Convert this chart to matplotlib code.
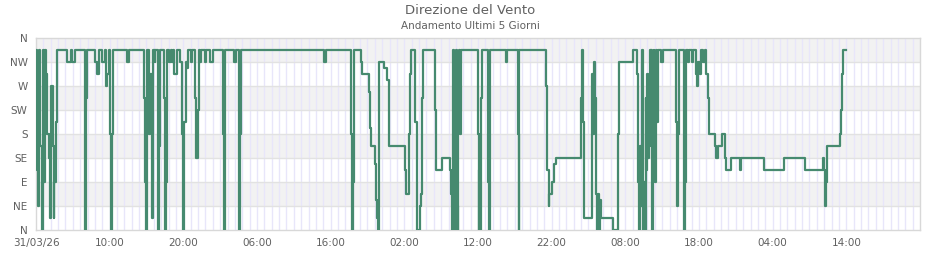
import matplotlib
matplotlib.use("Agg")
import matplotlib.pyplot as plt

# ---- data: hours since 31/03/26 00:00 where the direction changes, and the new direction (degrees)
change_hours = [
    0.0, 0.1, 0.2, 0.3, 0.45, 0.6, 0.8, 0.95, 1.1, 1.2, 1.4, 1.55, 1.7, 1.85, 1.95, 2.1, 2.25, 2.4, 2.5, 2.65, 2.8,
    4.2, 4.8, 4.95, 5.25,
    6.6, 6.7, 6.8, 6.9,
    8.0, 8.3, 8.5, 9.0, 9.3, 9.45, 9.6, 9.9,
    10.1, 10.2, 10.3, 10.4,
    12.4, 12.6,
    14.7, 14.85, 15.0, 15.1, 15.3, 15.5, 15.7, 15.85, 16.1, 16.2, 16.5, 16.6, 16.7, 16.8,
    17.4, 17.55, 17.65, 17.8,
    18.0, 18.3, 18.4, 18.6, 18.7, 19.1, 19.5, 19.8, 20.0, 20.15, 20.3, 20.5, 20.7, 21.0, 21.2,
    21.6, 21.75, 22.0, 22.1,
    22.3, 22.45, 22.9, 23.1, 23.6, 24.0,
    25.4, 25.5, 25.6, 25.7,
    26.9, 27.2,
    27.5, 27.6, 27.7, 27.8,
    39.1, 39.3,
    42.8, 42.95, 43.05, 43.15,
    44.1, 44.25, 45.2, 45.35, 45.5, 46.0, 46.2, 46.3, 46.45, 46.6,
    47.3, 47.6, 47.9, 50.1, 50.25, 50.6, 50.75, 50.85,
    51.45, 51.7, 52.1, 52.25, 52.35, 52.5,
    54.1, 54.25, 55.1, 56.2, 56.35, 56.45, 56.55, 56.65, 56.75, 56.85, 56.95, 57.05, 57.15, 57.25, 57.35, 57.45, 57.55, 57.65,
    60.0, 60.1, 60.2, 60.3, 60.4, 60.5,
    61.4, 61.5, 61.6,
    63.8, 64.0,
    65.4, 65.5, 65.6,
    69.2, 69.4, 69.6, 69.7, 70.0, 70.3, 70.6, 74.0, 74.1, 74.25, 74.4, 75.5, 75.6, 75.7, 75.9, 76.0, 76.1, 76.3, 76.4, 76.5, 76.7, 78.3, 79.0, 79.1,
    81.0, 81.1, 81.6, 81.7, 81.8, 81.9, 82.0, 82.1, 82.25, 82.35, 82.45, 82.55, 82.65, 82.75, 82.85, 82.95, 83.05, 83.15, 83.25, 83.35, 83.45, 83.55, 83.65, 83.75, 83.85, 83.95, 84.05, 84.15, 84.25, 84.4,
    84.9, 85.1,
    86.9, 87.05, 87.15, 87.3, 87.9, 88.0, 88.1, 88.2, 88.5, 88.7, 89.0, 89.2, 89.6, 89.75, 89.9, 90.1, 90.3, 90.6, 90.8, 91.0, 91.2, 91.3,
    91.4, 92.2, 92.35, 92.6, 93.1, 93.5, 93.65, 94.4,
    95.6, 95.75, 98.8, 101.5, 104.4, 106.8, 107.0, 107.15, 107.25, 107.4, 109.1, 109.25, 109.35, 109.5, 110.0,
]
directions = [
    337.5, 247.5, 112.5, 45, 337.5, 157.5, 0, 337.5, 90, 337.5, 292.5, 180, 135, 67.5, 22.5, 270, 157.5, 22.5, 90, 202.5, 337.5,
    315, 337.5, 315, 337.5,
    180, 0, 247.5, 337.5,
    315, 292.5, 337.5, 315, 337.5, 270, 292.5, 337.5,
    180, 0, 180, 337.5,
    315, 337.5,
    247.5, 90, 0, 337.5, 180, 292.5, 22.5, 337.5, 315, 337.5, 180, 0, 157.5, 337.5,
    247.5, 0, 90, 337.5,
    315, 337.5, 315, 337.5, 292.5, 337.5, 315, 180, 0, 202.5, 315, 303.75, 337.5, 315, 337.5,
    247.5, 135, 225, 337.5,
    315, 337.5, 315, 337.5, 315, 337.5,
    180, 0, 180, 337.5,
    315, 337.5,
    180, 0, 180, 337.5,
    315, 337.5,
    180, 0, 90, 337.5,
    315, 292.5, 258.75, 191.25, 157.5, 123.75, 56.25, 22.5, 0, 315,
    303.75, 281.25, 157.5, 112.5, 67.5, 180, 292.5, 337.5,
    202.5, 0, 45, 67.5, 247.5, 337.5,
    225, 112.5, 135, 112.5, 67.5, 0, 180, 337.5, 90, 0, 225, 337.5, 45, 0, 202.5, 337.5, 180, 337.5,
    180, 0, 112.5, 0, 247.5, 337.5,
    90, 0, 337.5,
    315, 337.5,
    180, 0, 337.5,
    270, 112.5, 45, 67.5, 90, 123.75, 135, 247.5, 337.5, 202.5, 22.5, 292.5, 180, 315, 247.5, 67.5, 0, 67.5, 0, 56.25, 22.5, 0, 180, 315,
    326.25, 337.5, 292.5, 90, 45, 0, 157.5, 45, 337.5, 135, 0, 90, 0, 247.5, 112.5, 292.5, 135, 270, 202.5, 337.5, 157.5, 337.5, 0, 247.5, 337.5, 202.5, 90, 337.5, 202.5, 337.5,
    315, 337.5,
    202.5, 45, 180, 337.5, 225, 0, 90, 337.5, 315, 337.5, 315, 337.5, 292.5, 270, 315, 292.5, 337.5, 315, 337.5, 292.5, 247.5, 202.5,
    180, 157.5, 135, 157.5, 180, 135, 112.5, 135,
    112.5, 135, 112.5, 135, 112.5, 135, 112.5, 45, 90, 157.5, 180, 225, 292.5, 337.5, 337.5,
]

x_tick_hours = [0, 10, 20, 30, 40, 50, 60, 70, 80, 90, 100, 110]
x_tick_labels = ["31/03/26", "10:00", "20:00", "06:00", "16:00", "02:00", "12:00",
                 "22:00", "08:00", "18:00", "04:00", "14:00"]
y_tick_degrees = [0, 45, 90, 135, 180, 225, 270, 315, 360]
y_tick_labels = ["N", "NE", "E", "SE", "S", "SW", "W", "NW", "N"]
title_text = "Direzione del Vento"
subtitle_text = "Andamento Ultimi 5 Giorni"
x_span = (0, 120)

# ---- drawing
fig = plt.figure(figsize=(9.4, 2.6), dpi=100)
ax = fig.add_axes([0.0383, 0.1154, 0.9404, 0.7384])

text_color = "#606060"
for i in range(0, 8):
    lo = y_tick_degrees[i]
    hi = y_tick_degrees[i + 1]
    if i % 2 == 1:
        ax.axhspan(lo, hi, color="#f2f2f2", zorder=0, lw=0)

for h in range(x_span[0] + 1, x_span[1]):
    ax.axvline(h, color="#e8e6fa", lw=1.0, zorder=1)
for d in y_tick_degrees[1:-1]:
    ax.axhline(d, color="#e2e2e2", lw=1.0, zorder=1.5)

ax.step(change_hours, directions, where="post", color="#468a6f", lw=1.6, zorder=3)

ax.set_xlim(*x_span)
ax.set_ylim(0, 360)
ax.set_xticks(x_tick_hours)
ax.set_xticklabels(x_tick_labels)
ax.set_yticks(y_tick_degrees)
ax.set_yticklabels(y_tick_labels)
ax.tick_params(axis="both", length=0, labelsize=7.5, colors=text_color)
ax.tick_params(axis="x", pad=6)
ax.tick_params(axis="y", pad=6)
for s in ax.spines.values():
    s.set_color("#d8d8d8")
    s.set_linewidth(1.0)

fig.text(0.5, 1 - 10 / 260, title_text, ha="center", va="center", fontsize=9.5, color=text_color)
fig.text(0.5, 1 - 26 / 260, subtitle_text, ha="center", va="center", fontsize=7.5, color=text_color)

fig.savefig("out.png", dpi=100)
